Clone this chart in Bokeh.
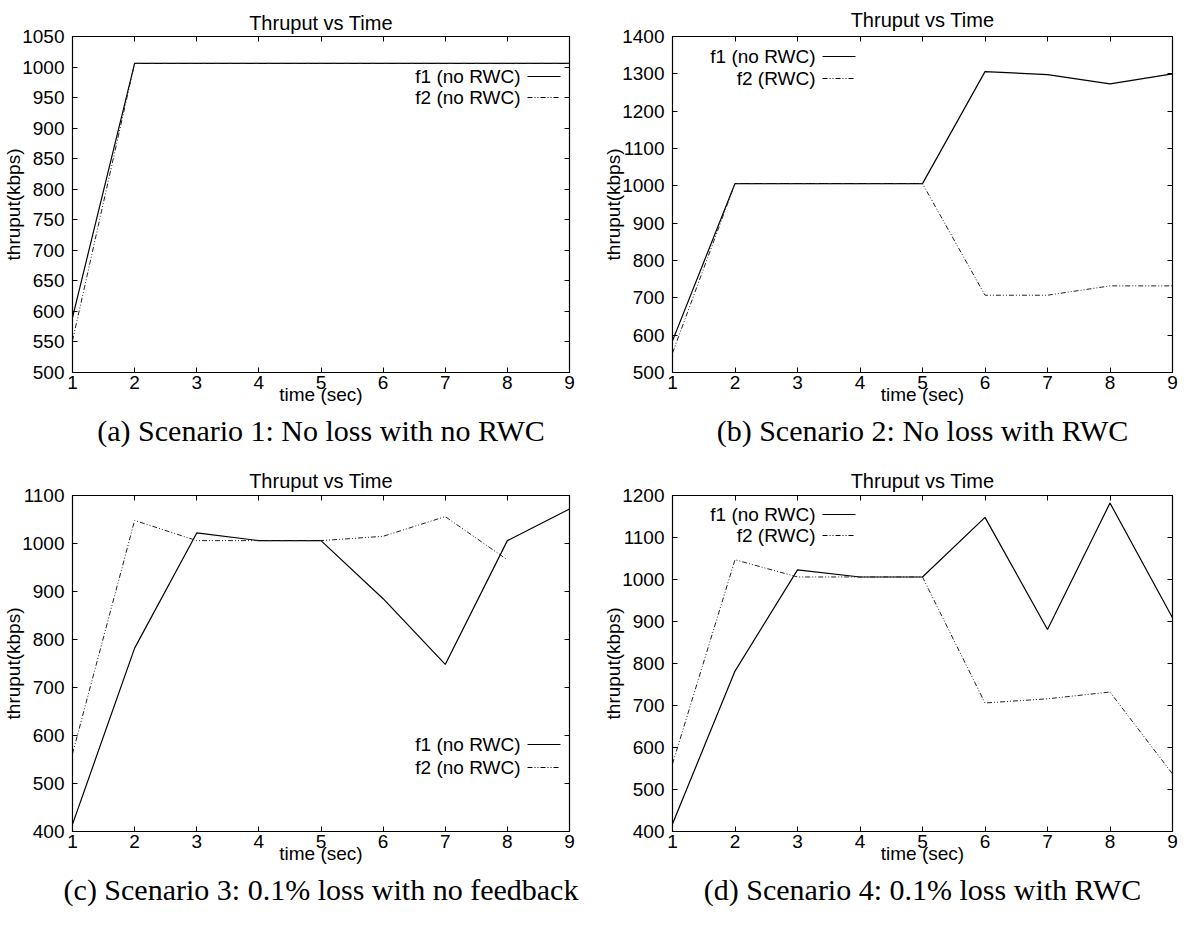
from bokeh.plotting import figure
from bokeh.models import Range1d, LinearAxis, FixedTicker, Title, Label, Arrow
from bokeh.layouts import column, row
from bokeh.embed import file_html
from bokeh.resources import INLINE

# ---------------- data ----------------
time_sec = [1, 2, 3, 4, 5, 6, 7, 8, 9]

a_f1 = [590, 1006, 1006, 1006, 1006, 1006, 1006, 1006, 1006]
a_f2 = [552, 1006, 1006, 1006, 1006, 1006, 1006, 1006, 1006]

b_f1 = [585, 1006, 1006, 1006, 1006, 1306, 1298, 1273, 1300]
b_f2 = [552, 1006, 1006, 1006, 1006, 707, 707, 732, 732]

c_f1 = [415, 782, 1022, 1006, 1006, 885, 748, 1006, 1072]
c_f2 = [562, 1048, 1006, 1006, 1006, 1015, 1056, 966]

d_f1 = [418, 782, 1023, 1006, 1006, 1148, 881, 1182, 909]
d_f2 = [561, 1047, 1006, 1006, 1006, 706, 716, 732, 537]

a_ticks = [500, 550, 600, 650, 700, 750, 800, 850, 900, 950, 1000, 1050]
b_ticks = [500, 600, 700, 800, 900, 1000, 1100, 1200, 1300, 1400]
c_ticks = [400, 500, 600, 700, 800, 900, 1000, 1100]
d_ticks = [400, 500, 600, 700, 800, 900, 1000, 1100, 1200]

title_text = "Thruput vs Time"
x_label = "time (sec)"
y_label = "thruput(kbps)"
captions = [
    "(a) Scenario 1: No loss with no RWC",
    "(b) Scenario 2: No loss with RWC",
    "(c) Scenario 3: 0.1% loss with no feedback",
    "(d) Scenario 4: 0.1% loss with RWC",
]
legend_a = ["f1 (no RWC)", "f2 (no RWC)"]
legend_b = ["f1 (no RWC)", "f2 (RWC)"]

SANS = "Liberation Sans"
SERIF = "Liberation Serif"
DASH = "5 2 1 2 1 2"


def panel(x, f1, x2, f2, yticks, labels, caption, W, H, left, right, top, bottom,
          title_standoff, cap_offset, leg_x, leg_y1, leg_y2):
    p = figure(width=W, height=H, x_range=Range1d(1, 9),
               y_range=Range1d(yticks[0], yticks[-1]),
               output_backend="svg", toolbar_location=None,
               min_border_left=left, min_border_right=right,
               min_border_top=top, min_border_bottom=bottom,
               title=title_text)
    p.background_fill_color = "white"
    p.border_fill_color = "white"
    p.outline_line_color = "black"
    p.outline_line_width = 1.2
    p.xgrid.visible = False
    p.ygrid.visible = False

    p.title.text_font = SANS
    p.title.text_font_size = "20px"
    p.title.text_font_style = "normal"
    p.title.text_color = "black"
    p.title.align = "center"
    p.title.standoff = title_standoff

    xt = FixedTicker(ticks=time_sec)
    yt = FixedTicker(ticks=yticks)

    for ax in p.xaxis:
        ax.ticker = xt
        ax.axis_label = x_label
        ax.axis_label_text_font = SANS
        ax.axis_label_text_font_size = "19px"
        ax.axis_label_text_font_style = "normal"
        ax.axis_label_text_color = "black"
        ax.axis_label_standoff = -8
        ax.major_label_text_font = SANS
        ax.major_label_text_font_size = "19px"
        ax.major_label_text_color = "black"
        ax.major_label_standoff = 3
        ax.major_tick_in = 5
        ax.major_tick_out = 0
        ax.major_tick_line_color = "black"
        ax.minor_tick_in = 0
        ax.minor_tick_out = 0
        ax.axis_line_color = "black"
    for ax in p.yaxis:
        ax.ticker = yt
        ax.axis_label = y_label
        ax.axis_label_text_font = SANS
        ax.axis_label_text_font_size = "19px"
        ax.axis_label_text_font_style = "normal"
        ax.axis_label_text_color = "black"
        ax.axis_label_standoff = -5
        ax.major_label_text_font = SANS
        ax.major_label_text_font_size = "19px"
        ax.major_label_text_color = "black"
        ax.major_label_standoff = 8
        ax.major_tick_in = 5
        ax.major_tick_out = 0
        ax.major_tick_line_color = "black"
        ax.minor_tick_in = 0
        ax.minor_tick_out = 0
        ax.axis_line_color = "black"

    # mirrored inward ticks on top and right
    top_ax = LinearAxis(ticker=FixedTicker(ticks=time_sec),
                        major_label_overrides={t: "" for t in time_sec},
                        major_label_text_font_size="0px", major_label_standoff=0,
                        major_tick_in=5, major_tick_out=0, minor_tick_in=0,
                        minor_tick_out=0, axis_line_color=None,
                        major_tick_line_color="black")
    right_ax = LinearAxis(ticker=FixedTicker(ticks=yticks),
                          major_label_overrides={t: "" for t in yticks},
                          major_label_text_font_size="0px", major_label_standoff=0,
                          major_tick_in=5, major_tick_out=0, minor_tick_in=0,
                          minor_tick_out=0, axis_line_color=None,
                          major_tick_line_color="black")
    p.add_layout(top_ax, "above")
    p.add_layout(right_ax, "right")

    p.line(x, f1, line_color="black", line_width=1.2)
    p.line(x2, f2, line_color="#222222", line_width=1.0, line_dash=DASH)

    # gnuplot-style key: text, then sample line on its right
    for lbl, yy, dash in [(labels[0], leg_y1, "solid"), (labels[1], leg_y2, DASH)]:
        p.add_layout(Label(x=leg_x, y=yy, x_units="screen", y_units="screen",
                           text=lbl, text_align="right", text_baseline="middle",
                           text_font=SANS, text_font_size="19px", text_color="black"))
        p.add_layout(Arrow(x_start=leg_x + 7, y_start=yy, x_end=leg_x + 40, y_end=yy,
                           start_units="screen", end_units="screen",
                           start=None, end=None, line_color="black",
                           line_width=1.2 if dash == "solid" else 1.0,
                           line_dash=dash))

    p.add_layout(Title(text=caption, align="center", text_font=SERIF,
                       text_font_size="30px", text_font_style="normal",
                       text_color="black",
                       standoff=8, offset=cap_offset), "below")
    return p


WA, WB = 586, 593
HT, HB = 456, 453

pa = panel(time_sec, a_f1, time_sec, a_f2, a_ticks, legend_a, captions[0],
           WA, HT, 68, 17, 36, 84, 6, -14, 448, 296, 275)
pb = panel(time_sec, b_f1, time_sec, b_f2, b_ticks, legend_b, captions[1],
           WB, HT, 86, 7, 36, 84, 12, -17, 143, 316, 294)
pc = panel(time_sec, c_f1, time_sec[:len(c_f2)], c_f2, c_ticks, legend_a, captions[2],
           WA, HB, 68, 17, 39, 78, 8, -6, 448, 87, 64)
pd = panel(time_sec, d_f1, time_sec, d_f2, d_ticks, legend_b, captions[3],
           WB, HB, 86, 7, 39, 78, 8, -20, 143, 317, 296)

layout = column(row(pa, pb), row(pc, pd))
open("out.html", "w").write(file_html(layout, INLINE))
